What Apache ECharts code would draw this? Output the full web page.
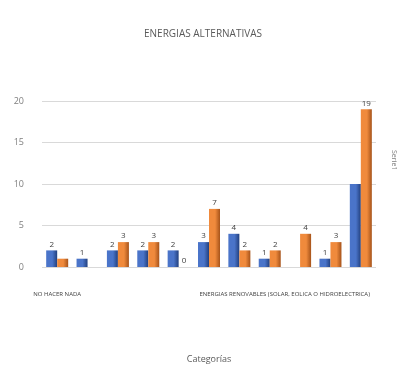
<!DOCTYPE html>
<html>
<head>
<meta charset="utf-8">
<script src="https://cdn.jsdelivr.net/npm/echarts@6/dist/echarts.min.js"></script>
<style>
  html, body { margin: 0; padding: 0; background: #fff; }
  #chart { width: 406px; height: 367px; }
</style>
</head>
<body>
<div id="chart"></div>
<script>
// categories (only two names readable in the original)
const categories = ['NO HACER NADA', '', '', '', '', '', '', 'ENERGIAS RENOVABLES (SOLAR, EOLICA O HIDROELECTRICA)', '', '', ''];
const serie1 = [2, 1, 2, 2, 2, 3, 4, 1, 0, 1, 10];
const serie2 = [1, 0, 3, 3, 0, 7, 2, 2, 4, 3, 19];
const yTicks = [0, 5, 10, 15, 20];
// labels not visible in the original
const hidden1 = [8, 10];
const hidden2 = [0, 1];

const chart = echarts.init(document.getElementById('chart'));

const grad = (light, dark) => new echarts.graphic.LinearGradient(0, 0, 1, 0, [
  { offset: 0, color: light },
  { offset: 0.55, color: light },
  { offset: 1, color: dark }
]);

const toItems = (arr, hidden) => arr.map((v, i) => hidden.includes(i) ? { value: v, label: { show: false } } : v);

chart.setOption({
  animation: false,
  title: {
    text: 'ENERGIAS ALTERNATIVAS',
    left: 'center',
    top: 24,
    textStyle: { fontFamily: 'Open Sans', fontSize: 10, fontWeight: 'normal', color: '#595959' }
  },
  grid: { left: 42, right: 30, top: 101, bottom: 100 },
  xAxis: {
    type: 'category',
    data: categories,
    name: 'Categorías',
    nameLocation: 'middle',
    nameGap: 88,
    nameTextStyle: { fontFamily: 'Open Sans', fontSize: 9, color: '#595959' },
    axisLine: { show: false },
    axisTick: { show: false },
    axisLabel: {
      interval: 0,
      margin: 24,
      fontFamily: 'Open Sans',
      fontSize: 6,
      color: '#404040',
      formatter: (v, i) => i === 7 ? '{r|' + v + '}' : v,
      rich: { r: { fontFamily: 'Open Sans', fontSize: 6, color: '#404040', padding: [0, 0, 0, 30] } }
    }
  },
  yAxis: {
    type: 'value',
    min: yTicks[0],
    max: yTicks[yTicks.length - 1],
    interval: 5,
    axisLabel: { fontFamily: 'Open Sans', fontSize: 9, color: '#7f7f7f', margin: 18 },
    splitLine: { lineStyle: { color: '#d9d9d9' } }
  },
  graphic: [{
    type: 'text',
    left: 390,
    top: 150,
    rotation: -Math.PI / 2,
    style: { text: 'Serie1', fontFamily: 'Open Sans', fontSize: 7, fill: '#7f7f7f' }
  }],
  series: [
    {
      name: 'Serie1',
      type: 'bar',
      barWidth: 11,
      barGap: '0%',
      data: toItems(serie1, hidden1),
      itemStyle: { color: grad('#4a74c9', '#22407e') },
      label: { show: true, position: 'top', distance: 2, fontFamily: 'Open Sans', fontSize: 8, color: '#404040' }
    },
    {
      name: 'Serie2',
      type: 'bar',
      barWidth: 11,
      data: toItems(serie2, hidden2),
      itemStyle: { color: grad('#f08a3c', '#a6531a') },
      label: { show: true, position: 'top', distance: 2, fontFamily: 'Open Sans', fontSize: 8, color: '#404040' }
    }
  ]
});
</script>
</body>
</html>
